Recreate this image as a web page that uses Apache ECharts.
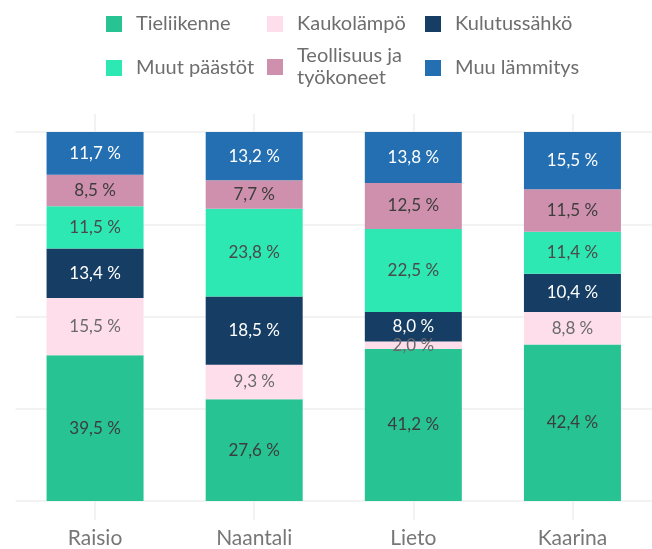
<!DOCTYPE html>
<html>
<head>
<meta charset="utf-8">
<script src="https://cdn.jsdelivr.net/npm/echarts@6/dist/echarts.min.js"></script>
<style>
  html, body { margin: 0; padding: 0; background: #fff; }
  #chart { width: 652px; height: 549px; }
</style>
</head>
<body>
<div id="chart"></div>
<script>
// Municipalities on the x axis
const municipalities = ['Raisio', 'Naantali', 'Lieto', 'Kaarina'];

// Emission shares by source (%), bottom to top in each stack
const tieliikenne   = [39.5, 27.6, 41.2, 42.4];
const kaukolampo    = [15.5, 9.3, 2.0, 8.8];
const kulutussahko  = [13.4, 18.5, 8.0, 10.4];
const muutPaastot   = [11.5, 23.8, 22.5, 11.4];
const teollisuus    = [8.5, 7.7, 12.5, 11.5];
const muuLammitys   = [11.7, 13.2, 13.8, 15.5];

const FONT = 'Lato, "Noto Sans", sans-serif';

const seriesDefs = [
  { name: 'Tieliikenne', data: tieliikenne, color: '#27c392', text: '#3d3d3d' },
  { name: 'Kaukolämpö', data: kaukolampo, color: '#ffdeeb', text: '#6a6a6a' },
  { name: 'Kulutussähkö', data: kulutussahko, color: '#163d63', text: '#ffffff' },
  { name: 'Muut päästöt', data: muutPaastot, color: '#2ee8b4', text: '#4a4a4a' },
  { name: 'Teollisuus ja työkoneet', data: teollisuus, color: '#ce90ad', text: '#3d3d3d' },
  { name: 'Muu lämmitys', data: muuLammitys, color: '#236fb1', text: '#ffffff' }
];

const fmt = v => v.toFixed(1).replace('.', ',') + ' %';

// Legend: one component per entry so the three columns line up
const legendSlots = [
  { left: 106, top: 12 }, { left: 267, top: 12 }, { left: 425, top: 12 },
  { left: 106, top: 56 }, { left: 267, top: 45 }, { left: 425, top: 56 }
];
const legends = seriesDefs.map((s, k) => ({
  data: [s.name],
  left: legendSlots[k].left,
  top: legendSlots[k].top,
  padding: 0,
  itemWidth: 16,
  itemHeight: 16,
  itemGap: 0,
  icon: 'rect',
  selectedMode: false,
  formatter: name => name === 'Teollisuus ja työkoneet' ? 'Teollisuus ja\ntyökoneet' : name,
  textStyle: {
    fontFamily: FONT, fontSize: 20, color: '#6e6e6e',
    lineHeight: s.name === 'Teollisuus ja työkoneet' ? 22 : 24,
    padding: [0, 0, 0, 9]
  }
}));

const chart = echarts.init(document.getElementById('chart'), null, { renderer: 'canvas' });

chart.setOption({
  animation: false,
  legend: legends,
  grid: { left: 15.5, top: 132, width: 640, height: 371, containLabel: false },
  xAxis: [
    {
      type: 'category',
      data: municipalities,
      position: 'bottom',
      axisLine: { show: false },
      axisTick: { show: true, alignWithLabel: true, length: 19, lineStyle: { color: '#eeeeee', width: 1.5 } },
      axisLabel: { fontFamily: FONT, fontSize: 21, color: '#777777', margin: 27 },
      splitLine: { show: false }
    },
    {
      type: 'category',
      data: municipalities,
      position: 'top',
      axisLine: { show: false },
      axisTick: { show: true, alignWithLabel: true, length: 18, lineStyle: { color: '#eeeeee', width: 1.5 } },
      axisLabel: { show: false },
      splitLine: { show: false }
    }
  ],
  yAxis: {
    type: 'value',
    min: 0,
    max: 100,
    interval: 25,
    axisLine: { show: false },
    axisTick: { show: false },
    axisLabel: { show: false },
    splitLine: { show: true, lineStyle: { color: '#efefef', width: 1.5 } }
  },
  series: seriesDefs.map(s => ({
    name: s.name,
    type: 'bar',
    stack: 'total',
    xAxisIndex: 0,
    barWidth: 97,
    data: s.data,
    itemStyle: { color: s.color },
    label: {
      show: true,
      position: 'inside',
      formatter: p => fmt(p.value),
      fontFamily: FONT,
      fontSize: 17,
      color: s.text
    }
  }))
});
</script>
</body>
</html>
